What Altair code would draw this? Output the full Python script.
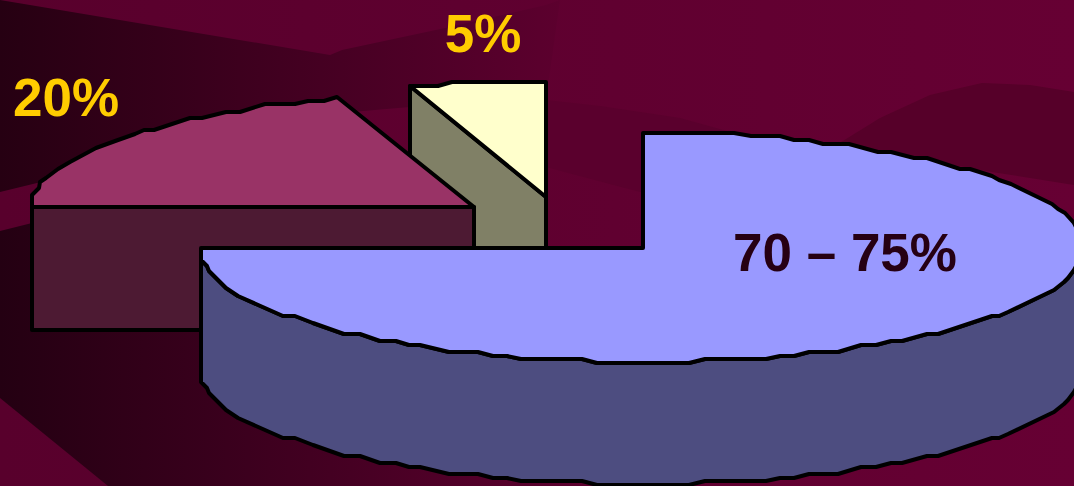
import altair as alt
import pandas as pd

W, H = 1074, 486
DEPTH = 122  # height of the extruded pie wall

# Rim of the large slice, front edge from right to left
large_front_x = [1086,1074,1068,1064,1054,1008,999,992,938,927,902,891,876,861,838,809,794,780,766,705,689,597,582,537,521,507,493,478,449,420,409,396,380,360,344,313,295,283,265,238,226,209,207,201]
large_front_y = [247,270,278,282,290,312,316,316,334,334,341,341,345,345,352,352,356,356,359,359,363,363,359,359,359,356,356,352,352,345,345,341,341,334,334,323,316,316,308,296,288,271,266,260]
# Rim of the large slice, back edge from the notch to the right
large_back_x = [643,734,751,780,794,809,823,849,878,891,914,927,960,970,992,999,1011,1052,1058,1065,1074]
large_back_y = [133,133,136,136,140,140,144,144,152,152,158,158,169,169,176,180,184,204,209,213,223]

# Rim of the medium slice
medium_rim_x = [32,32,39,40,46,58,70,96,118,135,144,154,190,202,226,240,265,295,308,324,337]
medium_rim_y = [207,195,188,182,178,169,162,148,140,134,130,130,118,118,112,112,104,104,101,101,97]

# Small slice
small_top_x = [410,438,452,546,546]
small_top_y = [86,86,82,82,197]
small_side_x = [410,546,546,410]
small_side_y = [86,197,330,210]

# Backdrop swooshes
back_base_x = [0,1074,1074,0]
back_base_y = [0,0,486,486]
swoosh_a_x = [0,330,342,445,546,560,546,410,340,37,0]
swoosh_a_y = [0,55,50,28,5,0,100,107,113,183,192]
swoosh_b_x = [0,32,200,300,640,640,108,0]
swoosh_b_y = [231,223,195,240,480,486,486,398]
swoosh_c_x = [546,600,680,734,760,640,546]
swoosh_c_y = [100,106,118,133,180,192,167]
swoosh_d_x = [838,880,930,982,1030,1074,1074,992]
swoosh_d_y = [144,118,95,83,85,92,185,172]

# Labels
labels = ["20%", "5%", "70 – 75%"]
label_x = [66, 483, 845]
label_y = [116, 52, 271]
label_colors = ["#FFCC00", "#FFCC00", "#260013"]

x_scale = alt.Scale(domain=[0, W], nice=False, zero=False)
y_scale = alt.Scale(domain=[H, 0], nice=False, zero=False)


def shape(xs, ys, fill, stroke_width=4):
    """A closed outline drawn through the chart's x and y scales."""
    table = pd.DataFrame({"x": xs, "y": ys, "i": range(len(xs))})
    return (
        alt.Chart(table)
        .mark_line(
            interpolate="linear-closed",
            fill=fill,
            stroke="#000000",
            strokeWidth=stroke_width,
            strokeJoin="round",
            clip=True,
        )
        .encode(
            x=alt.X("x:Q", scale=x_scale, axis=None),
            y=alt.Y("y:Q", scale=y_scale, axis=None),
            order=alt.Order("i:Q"),
        )
    )


def sweep(left, right):
    return alt.Gradient(
        gradient="linear",
        x1=0, x2=1, y1=0, y2=0,
        stops=[alt.GradientStop(color=left, offset=0), alt.GradientStop(color=right, offset=1)],
    )


wall_x = large_front_x + [201] + large_front_x[::-1]
wall_y = large_front_y + [260 + DEPTH] + [v + DEPTH for v in large_front_y[::-1]]

top_x = [201, 643] + large_back_x + large_front_x
top_y = [248, 248] + large_back_y + large_front_y

layers = [
    shape(back_base_x, back_base_y, sweep("#58002C", "#660033"), 0),
    shape(swoosh_c_x, swoosh_c_y, "#5A002D", 0),
    shape(swoosh_d_x, swoosh_d_y, "#560029", 0),
    shape(swoosh_a_x, swoosh_a_y, sweep("#260012", "#5C002E"), 0),
    shape(swoosh_b_x, swoosh_b_y, sweep("#240012", "#620031"), 0),
    # small slice
    shape(small_side_x, small_side_y, "#808066"),
    shape(small_top_x, small_top_y, "#FFFFCC"),
    # medium slice
    shape([32, 474, 474, 32], [207, 207, 330, 330], "#4D1A33"),
    shape(medium_rim_x + [474], medium_rim_y + [207], "#993366"),
    # large slice
    shape(wall_x, wall_y, "#4D4D80"),
    shape(top_x, top_y, "#9999FF"),
]

for text, tx, ty, colour in zip(labels, label_x, label_y, label_colors):
    layers.append(
        alt.Chart(pd.DataFrame({"t": [text], "x": [tx], "y": [ty]}))
        .mark_text(font="Liberation Sans", fontWeight="bold", fontSize=53, color=colour,
                   align="center", baseline="alphabetic")
        .encode(
            x=alt.X("x:Q", scale=x_scale, axis=None),
            y=alt.Y("y:Q", scale=y_scale, axis=None),
            text="t:N",
        )
    )

chart = (
    alt.layer(*layers)
    .properties(width=W, height=H, padding=0, background="#660033",
                autosize=alt.AutoSizeParams(type="none"))
    .configure_view(stroke=None)
)

chart.save("out.html", embed_options={"renderer": "svg", "actions": False})
